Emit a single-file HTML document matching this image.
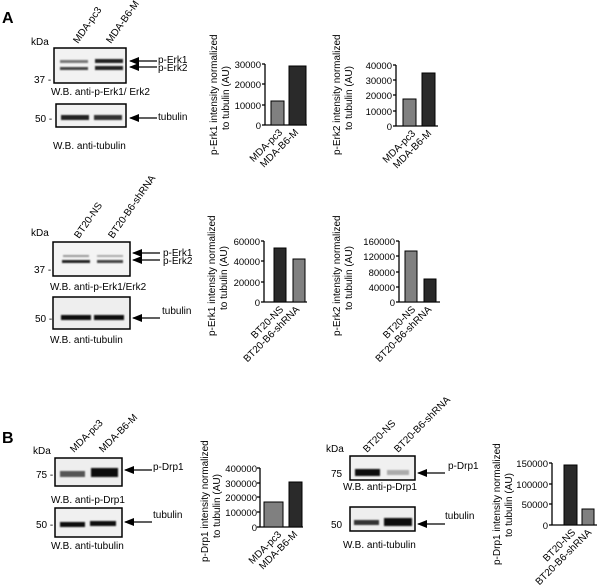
<!DOCTYPE html>
<html><head><meta charset="utf-8"><style>
html,body{margin:0;padding:0;background:#fff;}
svg{display:block;font-family:"Liberation Sans",Arial,sans-serif;}
</style></head><body>
<svg width="600" height="586" viewBox="0 0 600 586" xmlns="http://www.w3.org/2000/svg">
<defs>
<filter id="bl" x="-20%" y="-100%" width="140%" height="300%"><feGaussianBlur stdDeviation="0.9"/></filter>
<marker id="ah" markerWidth="10" markerHeight="8" refX="9" refY="4" orient="auto" markerUnits="userSpaceOnUse"><path d="M0,0 L10,4 L0,8 Z" fill="#000"/></marker>
</defs>
<g font-size="10" fill="#000">
<!-- ===== A row 1 ===== -->
<text x="2" y="23" font-size="16" font-weight="bold">A</text>
<text x="31" y="45">kDa</text>
<text transform="translate(78,44) rotate(-55)">MDA-pc3</text>
<text transform="translate(111,44) rotate(-55)">MDA-B6-M</text>
<rect x="54" y="48" width="72" height="35" fill="#f2f2f2" stroke="#000" stroke-width="1.5"/>
<g filter="url(#bl)">
<rect x="60" y="60" width="28" height="3" fill="#777"/><rect x="95" y="59" width="28" height="4" fill="#222"/>
<rect x="60" y="67" width="28" height="3" fill="#444"/><rect x="95" y="66" width="28" height="4" fill="#222"/>
</g>
<text x="34" y="83">37 -</text>
<text x="51" y="95">W.B. anti-p-Erk1/ Erk2</text>
<rect x="56" y="104" width="70" height="23" fill="#f2f2f2" stroke="#000" stroke-width="1.5"/>
<g filter="url(#bl)"><rect x="61" y="115" width="28" height="5" fill="#222"/><rect x="94" y="115" width="28" height="5" fill="#333"/></g>
<text x="35" y="122">50 -</text>
<text x="53" y="149">W.B. anti-tubulin</text>
<line x1="157" y1="61" x2="130" y2="61" stroke="#000" stroke-width="1.2" marker-end="url(#ah)"/>
<line x1="157" y1="67" x2="130" y2="67" stroke="#000" stroke-width="1.2" marker-end="url(#ah)"/>
<text x="158" y="63">p-Erk1</text><text x="158" y="71">p-Erk2</text>
<line x1="157" y1="118" x2="130" y2="118" stroke="#000" stroke-width="1.2" marker-end="url(#ah)"/>
<text x="158" y="120">tubulin</text>

<!-- chart1 -->
<text transform="translate(217,155) rotate(-90)">p-Erk1 intensity normalized</text>
<text transform="translate(229,130) rotate(-90)">to tubulin (AU)</text>
<g stroke="#000" stroke-width="1.3"><line x1="265" y1="64" x2="265" y2="125"/><line x1="265" y1="125" x2="307" y2="125"/>
<line x1="262" y1="64" x2="265" y2="64"/><line x1="262" y1="84" x2="265" y2="84"/><line x1="262" y1="105" x2="265" y2="105"/><line x1="262" y1="125" x2="265" y2="125"/></g>
<g text-anchor="end" font-size="9.5"><text x="261" y="68">30000</text><text x="261" y="88">20000</text><text x="261" y="109">10000</text><text x="261" y="129">0</text></g>
<rect x="271" y="101" width="13" height="24" fill="#808080" stroke="#000"/>
<rect x="289" y="66" width="17" height="59" fill="#2a2a2a" stroke="#000"/>
<text text-anchor="end" transform="translate(283,133) rotate(-45)">MDA-pc3</text>
<text text-anchor="end" transform="translate(299,133) rotate(-45)">MDA-B6-M</text>

<!-- chart2 -->
<text transform="translate(340,155) rotate(-90)">p-Erk2 intensity normalized</text>
<text transform="translate(352,130) rotate(-90)">to tubulin (AU)</text>
<g stroke="#000" stroke-width="1.3"><line x1="396" y1="65" x2="396" y2="126"/><line x1="396" y1="126" x2="438" y2="126"/>
<line x1="393" y1="65" x2="396" y2="65"/><line x1="393" y1="80" x2="396" y2="80"/><line x1="393" y1="95" x2="396" y2="95"/><line x1="393" y1="111" x2="396" y2="111"/><line x1="393" y1="126" x2="396" y2="126"/></g>
<g text-anchor="end" font-size="9.5"><text x="392" y="69">40000</text><text x="392" y="84">30000</text><text x="392" y="99">20000</text><text x="392" y="115">10000</text><text x="392" y="130">0</text></g>
<rect x="403" y="99" width="13" height="27" fill="#808080" stroke="#000"/>
<rect x="422" y="73" width="13" height="53" fill="#2a2a2a" stroke="#000"/>
<text text-anchor="end" transform="translate(416,134) rotate(-45)">MDA-pc3</text>
<text text-anchor="end" transform="translate(432,134) rotate(-45)">MDA-B6-M</text>

<!-- ===== A row 2 ===== -->
<text x="31" y="236">kDa</text>
<text transform="translate(79,239) rotate(-55)">BT20-NS</text>
<text transform="translate(113,239) rotate(-55)">BT20-B6-shRNA</text>
<rect x="53" y="242" width="77" height="34" fill="#f4f4f4" stroke="#000" stroke-width="1.5"/>
<g filter="url(#bl)">
<rect x="63" y="255" width="26" height="2" fill="#999"/><rect x="97" y="255" width="26" height="2" fill="#aaa"/>
<rect x="62" y="260" width="28" height="3" fill="#222"/><rect x="97" y="260" width="26" height="3" fill="#444"/>
</g>
<text x="34" y="273">37 -</text>
<text x="50" y="290">W.B. anti-p-Erk1/Erk2</text>
<rect x="53" y="297" width="77" height="32" fill="#eee" stroke="#000" stroke-width="1.5"/>
<g filter="url(#bl)"><rect x="61" y="315" width="30" height="5" fill="#111"/><rect x="94" y="315" width="30" height="5" fill="#111"/></g>
<text x="35" y="322">50 -</text>
<text x="50" y="343">W.B. anti-tubulin</text>
<line x1="160" y1="253" x2="133" y2="253" stroke="#000" stroke-width="1.2" marker-end="url(#ah)"/>
<line x1="160" y1="260" x2="133" y2="260" stroke="#000" stroke-width="1.2" marker-end="url(#ah)"/>
<text x="163" y="256">p-Erk1</text><text x="163" y="264">p-Erk2</text>
<line x1="160" y1="318" x2="133" y2="318" stroke="#000" stroke-width="1.2" marker-end="url(#ah)"/>
<text x="162" y="314">tubulin</text>

<!-- chart3 -->
<text transform="translate(215,336) rotate(-90)">p-Erk1 intensity normalized</text>
<text transform="translate(227,310) rotate(-90)">to tubulin (AU)</text>
<g stroke="#000" stroke-width="1.3"><line x1="264" y1="241" x2="264" y2="302"/><line x1="264" y1="302" x2="307" y2="302"/>
<line x1="261" y1="241" x2="264" y2="241"/><line x1="261" y1="261" x2="264" y2="261"/><line x1="261" y1="282" x2="264" y2="282"/><line x1="261" y1="302" x2="264" y2="302"/></g>
<g text-anchor="end" font-size="9.5"><text x="260" y="245">60000</text><text x="260" y="265">40000</text><text x="260" y="286">20000</text><text x="260" y="306">0</text></g>
<rect x="274" y="248" width="12" height="54" fill="#2a2a2a" stroke="#000"/>
<rect x="293" y="259" width="12" height="43" fill="#808080" stroke="#000"/>
<text text-anchor="end" transform="translate(284,310) rotate(-45)">BT20-NS</text>
<text text-anchor="end" transform="translate(300,310) rotate(-45)">BT20-B6-shRNA</text>

<!-- chart4 -->
<text transform="translate(340,336) rotate(-90)">p-Erk2 intensity normalized</text>
<text transform="translate(352,310) rotate(-90)">to tubulin (AU)</text>
<g stroke="#000" stroke-width="1.3"><line x1="399" y1="241" x2="399" y2="302"/><line x1="399" y1="302" x2="440" y2="302"/>
<line x1="396" y1="241" x2="399" y2="241"/><line x1="396" y1="256" x2="399" y2="256"/><line x1="396" y1="272" x2="399" y2="272"/><line x1="396" y1="287" x2="399" y2="287"/><line x1="396" y1="302" x2="399" y2="302"/></g>
<g text-anchor="end" font-size="9.5"><text x="395" y="245">160000</text><text x="395" y="260">120000</text><text x="395" y="276">80000</text><text x="395" y="291">40000</text><text x="395" y="306">0</text></g>
<rect x="405" y="251" width="12" height="51" fill="#808080" stroke="#000"/>
<rect x="424" y="279" width="12" height="23" fill="#2a2a2a" stroke="#000"/>
<text text-anchor="end" transform="translate(416,310) rotate(-45)">BT20-NS</text>
<text text-anchor="end" transform="translate(432,310) rotate(-45)">BT20-B6-shRNA</text>

<!-- ===== B left ===== -->
<text x="2" y="443" font-size="16" font-weight="bold">B</text>
<text x="33" y="454">kDa</text>
<text transform="translate(74,453) rotate(-45)">MDA-pc3</text>
<text transform="translate(103,453) rotate(-45)">MDA-B6-M</text>
<rect x="55" y="458" width="67" height="28" fill="#eee" stroke="#000" stroke-width="1.5"/>
<g filter="url(#bl)"><rect x="60" y="471" width="25" height="6" fill="#555"/><rect x="91" y="468" width="27" height="9" fill="#111"/></g>
<text x="36" y="478">75 -</text>
<text x="51" y="503">W.B. anti-p-Drp1</text>
<rect x="55" y="508" width="67" height="29" fill="#f0f0f0" stroke="#000" stroke-width="1.5"/>
<g filter="url(#bl)"><rect x="60" y="522" width="25" height="5" fill="#111"/><rect x="90" y="521" width="26" height="5" fill="#111"/></g>
<text x="36" y="528">50 -</text>
<text x="51" y="549">W.B. anti-tubulin</text>
<line x1="152" y1="470" x2="125" y2="470" stroke="#000" stroke-width="1.2" marker-end="url(#ah)"/>
<text x="153" y="470">p-Drp1</text>
<line x1="152" y1="522" x2="125" y2="522" stroke="#000" stroke-width="1.2" marker-end="url(#ah)"/>
<text x="153" y="518">tubulin</text>

<!-- chart5 -->
<text transform="translate(208,562) rotate(-90)">p-Drp1 intensity normalized</text>
<text transform="translate(220,538) rotate(-90)">to tubulin (AU)</text>
<g stroke="#000" stroke-width="1.3"><line x1="260" y1="468" x2="260" y2="527"/><line x1="260" y1="527" x2="303" y2="527"/>
<line x1="257" y1="468" x2="260" y2="468"/><line x1="257" y1="483" x2="260" y2="483"/><line x1="257" y1="497" x2="260" y2="497"/><line x1="257" y1="512" x2="260" y2="512"/><line x1="257" y1="527" x2="260" y2="527"/></g>
<g text-anchor="end" font-size="9.5"><text x="257" y="472">400000</text><text x="257" y="487">300000</text><text x="257" y="501">200000</text><text x="257" y="516">100000</text><text x="257" y="531">0</text></g>
<rect x="264" y="502" width="19" height="25" fill="#808080" stroke="#000"/>
<rect x="289" y="482" width="13" height="45" fill="#2a2a2a" stroke="#000"/>
<text text-anchor="end" transform="translate(282,535) rotate(-45)">MDA-pc3</text>
<text text-anchor="end" transform="translate(298,535) rotate(-45)">MDA-B6-M</text>

<!-- ===== B right ===== -->
<text x="326" y="452">kDa</text>
<text transform="translate(367,453) rotate(-45)">BT20-NS</text>
<text transform="translate(398,453) rotate(-45)">BT20-B6-shRNA</text>
<rect x="350" y="456" width="65" height="24" fill="#f0f0f0" stroke="#000" stroke-width="1.5"/>
<g filter="url(#bl)"><rect x="355" y="469" width="25" height="7" fill="#111"/><rect x="387" y="470" width="22" height="5" fill="#aaa"/></g>
<text x="331" y="477">75</text>
<text x="343" y="490">W.B. anti-p-Drp1</text>
<rect x="350" y="507" width="65" height="24" fill="#eee" stroke="#000" stroke-width="1.5"/>
<g filter="url(#bl)"><rect x="354" y="520" width="25" height="5" fill="#333"/><rect x="384" y="518" width="28" height="8" fill="#111"/></g>
<text x="331" y="528">50</text>
<text x="343" y="548">W.B. anti-tubulin</text>
<line x1="445" y1="473" x2="418" y2="473" stroke="#000" stroke-width="1.2" marker-end="url(#ah)"/>
<text x="448" y="469">p-Drp1</text>
<line x1="445" y1="524" x2="418" y2="524" stroke="#000" stroke-width="1.2" marker-end="url(#ah)"/>
<text x="445" y="519">tubulin</text>

<!-- chart6 -->
<text transform="translate(500,565) rotate(-90)">p-Drp1 intensity normalized</text>
<text transform="translate(512,537) rotate(-90)">to tubulin (AU)</text>
<g stroke="#000" stroke-width="1.3"><line x1="552" y1="463" x2="552" y2="525"/><line x1="552" y1="525" x2="597" y2="525"/>
<line x1="549" y1="463" x2="552" y2="463"/><line x1="549" y1="484" x2="552" y2="484"/><line x1="549" y1="504" x2="552" y2="504"/><line x1="549" y1="525" x2="552" y2="525"/></g>
<g text-anchor="end" font-size="9.5"><text x="548" y="467">150000</text><text x="548" y="488">100000</text><text x="548" y="508">50000</text><text x="548" y="529">0</text></g>
<rect x="564" y="465" width="13" height="60" fill="#2a2a2a" stroke="#000"/>
<rect x="582" y="509" width="12" height="16" fill="#808080" stroke="#000"/>
<text text-anchor="end" transform="translate(576,533) rotate(-45)">BT20-NS</text>
<text text-anchor="end" transform="translate(592,533) rotate(-45)">BT20-B6-shRNA</text>
</g>
</svg>
</body></html>
